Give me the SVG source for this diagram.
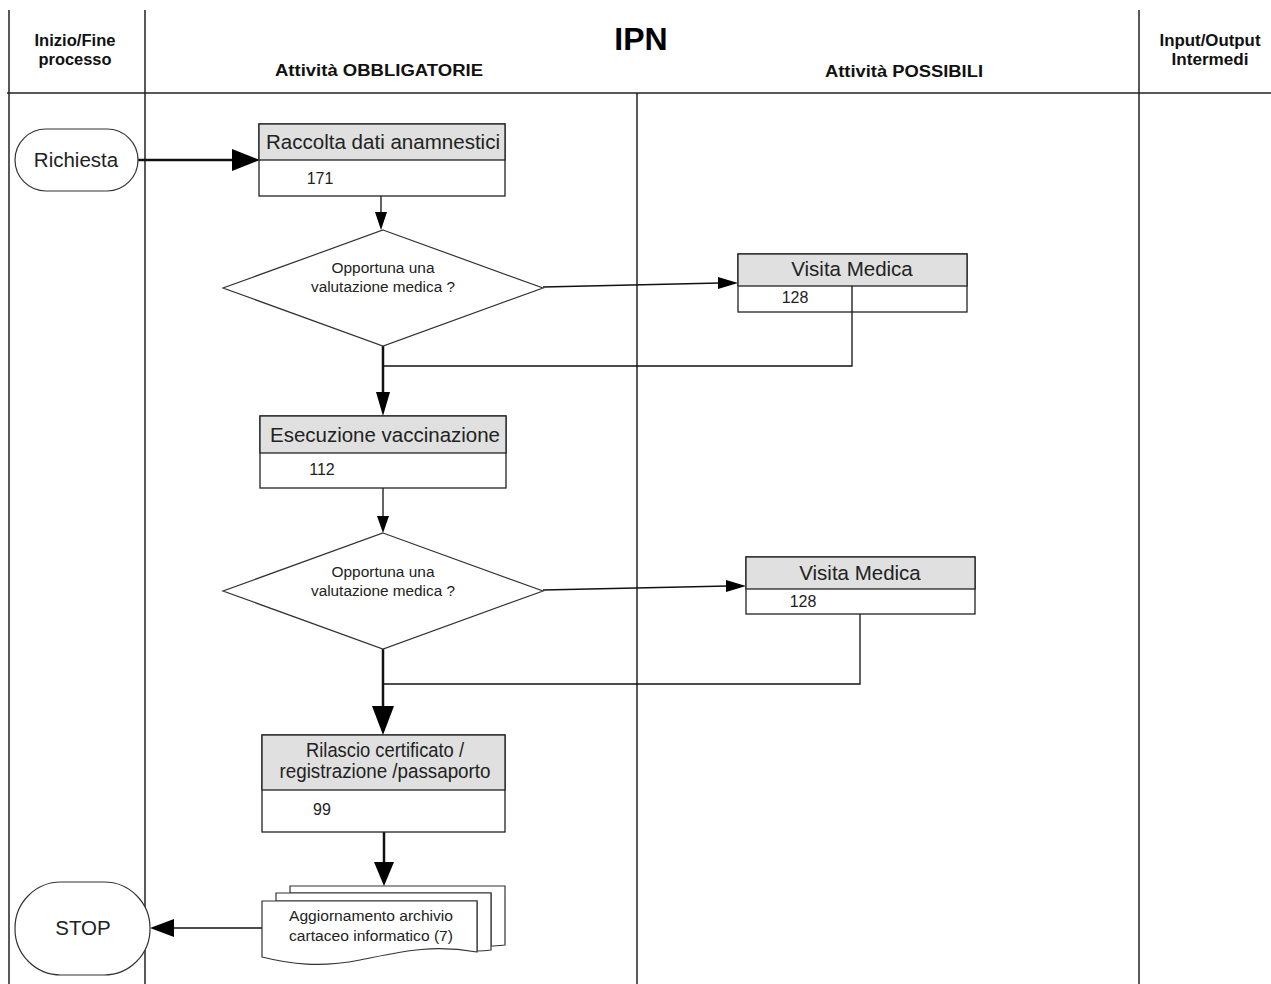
<svg xmlns="http://www.w3.org/2000/svg" width="1271" height="984" viewBox="0 0 1271 984">
  <style>
    .lane { stroke: #222; stroke-width: 1.5; fill: none; }
    .box { fill: #fff; stroke: #222; stroke-width: 1.3; }
    .hdr { fill: #e0e0e0; stroke: #222; stroke-width: 1.3; }
    .shape { fill: #fff; stroke: #333; stroke-width: 1.2; }
    .wire { stroke: #111; stroke-width: 1.3; fill: none; }
    .thick { stroke: #111; stroke-width: 2.5; fill: none; }
    .head { fill: #000; stroke: none; }
    text { font-family: "Liberation Sans", Arial, sans-serif; fill: #222; }
    .h { font-weight: bold; font-size: 16px; text-anchor: middle; fill: #111; }
    .title { font-weight: bold; font-size: 32px; text-anchor: middle; fill: #000; }
    .lbl { font-size: 20.5px; text-anchor: middle; }
    .num { font-size: 16px; text-anchor: middle; }
    .q { font-size: 14px; text-anchor: middle; }
  </style>

  <!-- swimlane frame -->
  <g id="lanes">
    <line class="lane" x1="9" y1="10" x2="9" y2="984"/>
    <line class="lane" x1="145" y1="10" x2="145" y2="984"/>
    <line class="lane" x1="637" y1="93" x2="637" y2="984"/>
    <line class="lane" x1="1139" y1="10" x2="1139" y2="984"/>
    <line class="lane" x1="7" y1="93" x2="1271" y2="93"/>
    <text class="h" x="75" y="46" textLength="81" lengthAdjust="spacingAndGlyphs">Inizio/Fine</text>
    <text class="h" x="75" y="65" textLength="73" lengthAdjust="spacingAndGlyphs">processo</text>
    <text class="title" x="641" y="50">IPN</text>
    <text class="h" x="379" y="76" font-size="17" textLength="208" lengthAdjust="spacingAndGlyphs">Attività OBBLIGATORIE</text>
    <text class="h" x="904" y="77" font-size="17" textLength="158" lengthAdjust="spacingAndGlyphs">Attività POSSIBILI</text>
    <text class="h" x="1210" y="46" textLength="101" lengthAdjust="spacingAndGlyphs">Input/Output</text>
    <text class="h" x="1210" y="65" textLength="77" lengthAdjust="spacingAndGlyphs">Intermedi</text>
  </g>

  <!-- connectors -->
  <g id="connectors">
    <line class="thick" x1="138" y1="160" x2="236" y2="160"/>
    <polygon class="head" points="232,149 260,160 232,171"/>

    <line class="wire" x1="381" y1="160" x2="381" y2="214"/>
    <polygon class="head" points="375,212 381,230 387,212"/>

    <line class="wire" x1="543" y1="287" x2="720" y2="283"/>
    <polygon class="head" points="718,277 738,283 718,289"/>

    <polyline class="wire" points="852,286 852,366 383,366"/>
    <line class="thick" x1="383" y1="346" x2="383" y2="396"/>
    <polygon class="head" points="376,392 383,416 390,392"/>

    <line class="wire" x1="383" y1="453" x2="383" y2="518"/>
    <polygon class="head" points="377,516 383,533 389,516"/>

    <line class="wire" x1="543" y1="590" x2="728" y2="586"/>
    <polygon class="head" points="726,580 746,586 726,592"/>

    <polyline class="wire" points="860,589 860,684 383,684"/>
    <line class="thick" x1="383" y1="649" x2="383" y2="710"/>
    <polygon class="head" points="372,706 383,735 394,706"/>

    <line class="thick" x1="384" y1="790" x2="384" y2="866"/>
    <polygon class="head" points="374,862 384,886 394,862"/>

    <line class="wire" x1="262" y1="928" x2="170" y2="928"/>
    <polygon class="head" points="174,919 150,928 174,937"/>
  </g>

  <g id="start">
    <rect class="shape" x="15" y="129" width="123" height="62" rx="31" ry="31"/>
    <text class="lbl" x="76" y="167" font-size="20">Richiesta</text>
  </g>

  <g id="raccolta">
    <rect class="box" x="259" y="124" width="246" height="72"/>
    <rect class="hdr" x="259" y="124" width="246" height="36"/>
    <text class="lbl" x="383" y="149" textLength="234" lengthAdjust="spacingAndGlyphs">Raccolta dati anamnestici</text>
    <text class="num" x="320" y="184">171</text>
  </g>

  <g id="decisione1">
    <polygon class="shape" points="383,230 543,288 383,346 223,288"/>
    <text class="q" x="383" y="273" textLength="103" lengthAdjust="spacingAndGlyphs">Opportuna  una</text>
    <text class="q" x="383" y="292" textLength="144" lengthAdjust="spacingAndGlyphs">valutazione  medica ?</text>
  </g>

  <g id="visita1">
    <rect class="box" x="738" y="254" width="229" height="58"/>
    <rect class="hdr" x="738" y="254" width="229" height="32"/>
    <text class="lbl" x="852" y="276">Visita Medica</text>
    <text class="num" x="795" y="303">128</text>
    <line class="wire" x1="852" y1="286" x2="852" y2="312"/>
  </g>

  <g id="esecuzione">
    <rect class="box" x="260" y="416" width="246" height="72"/>
    <rect class="hdr" x="260" y="416" width="246" height="37"/>
    <text class="lbl" x="385" y="442" textLength="230" lengthAdjust="spacingAndGlyphs">Esecuzione vaccinazione</text>
    <text class="num" x="322" y="475">112</text>
  </g>

  <g id="decisione2">
    <polygon class="shape" points="383,533 543,591 383,649 223,591"/>
    <text class="q" x="383" y="577" textLength="103" lengthAdjust="spacingAndGlyphs">Opportuna  una</text>
    <text class="q" x="383" y="596" textLength="144" lengthAdjust="spacingAndGlyphs">valutazione  medica ?</text>
  </g>

  <g id="visita2">
    <rect class="box" x="746" y="557" width="229" height="57"/>
    <rect class="hdr" x="746" y="557" width="229" height="32"/>
    <text class="lbl" x="860" y="580">Visita Medica</text>
    <text class="num" x="803" y="607">128</text>
  </g>

  <g id="rilascio">
    <rect class="box" x="262" y="735" width="243" height="97"/>
    <rect class="hdr" x="262" y="735" width="243" height="55"/>
    <text class="lbl" x="385" y="757" font-size="18.5" textLength="158" lengthAdjust="spacingAndGlyphs">Rilascio certificato /</text>
    <text class="lbl" x="385" y="778" font-size="18.5" textLength="211" lengthAdjust="spacingAndGlyphs">registrazione  /passaporto</text>
    <text class="num" x="322" y="815">99</text>
  </g>

  <g id="archivio">
    <path class="shape" d="M290,886 H505 V945 C495,946 492,946 491,946 V893 H290 Z"/>
    <path class="shape" d="M276,893 H491 V950 C485,951 480,951 477,951 V901 H276 Z"/>
    <path class="shape" d="M262,901 H477 V952 C430,944 400,952 360,960 C320,968 290,964 262,957 Z"/>
    <text class="q" x="371" y="921" textLength="164" lengthAdjust="spacingAndGlyphs">Aggiornamento  archivio</text>
    <text class="q" x="371" y="941" textLength="164" lengthAdjust="spacingAndGlyphs">cartaceo  informatico  (7)</text>
  </g>

  <g id="stop">
    <rect class="shape" x="15" y="882" width="135" height="93" rx="46" ry="46"/>
    <text class="lbl" x="83" y="935" font-size="17">STOP</text>
  </g>
</svg>
